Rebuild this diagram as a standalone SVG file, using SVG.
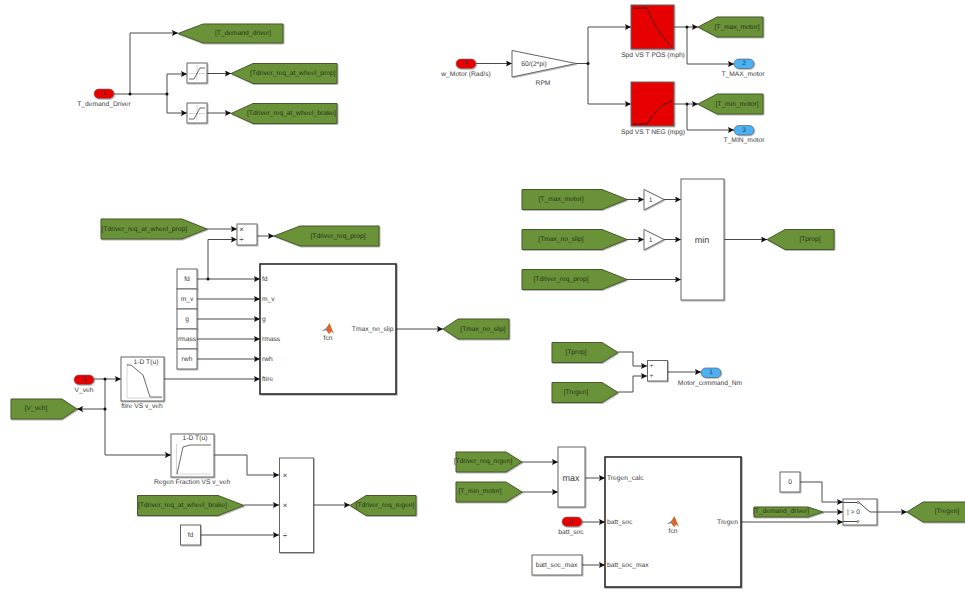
<svg xmlns="http://www.w3.org/2000/svg" width="965" height="599" viewBox="0 0 965 599">
<defs>
<marker id="arr" markerUnits="userSpaceOnUse" markerWidth="7" markerHeight="6" refX="6" refY="3" orient="auto"><path d="M0,0L6,3L0,6L1,3Z" fill="#111"/></marker>
<filter id="sh" x="-10%" y="-10%" width="125%" height="125%"><feDropShadow dx="0.8" dy="0.8" stdDeviation="0.5" flood-color="#000" flood-opacity="0.35"/></filter>
<g id="icon"><path d="M-6,2L-2,-0.5L1.500,-6L6,5L3.500,2.500L1,5L-2,1Z" fill="#d9682a"/><path d="M-6,2L-2,-0.5L0,-3L-2,1Z" fill="#3a86c8"/></g>
</defs>
<style>
text{font-family:"Liberation Sans",Arial,sans-serif;font-size:6.7px;fill:#3a3a3a;text-anchor:middle;dominant-baseline:central;text-rendering:geometricPrecision}
.tag{fill:#6a9238;stroke:#46592c;stroke-width:1;filter:url(#sh)}
.tag+text{fill:#26331a}
.blk{fill:#fff;stroke:#666;stroke-width:1;filter:url(#sh)}
.fn{fill:#fff;stroke:#2b2b2b;stroke-width:1.6;filter:url(#sh)}
.red{fill:#e60000;stroke:#777;stroke-width:.6;filter:url(#sh)}
.blue{fill:#4cb1f5;stroke:#555;stroke-width:.6;filter:url(#sh)}
.lm{fill:#e60000;stroke:#666;stroke-width:1;filter:url(#sh)}
.cv{fill:none;stroke:#444;stroke-width:.8}
.ax{fill:none;stroke:#ccc;stroke-width:.8}
.c{fill:none;stroke:#4a4a4a;stroke-width:1}
.a{marker-end:url(#arr)}
.st{text-anchor:start}
.en{text-anchor:end}
.dot{fill:#111;stroke:none}
.big{font-size:9px}
.op{font-size:8px}
</style>
<g id="connectors">
<path class="c a" d="M114,94H130V33H178"/>
<path class="c a" d="M130,94H167V74H187"/>
<path class="c a" d="M167,94V113H187"/>
<path class="c a" d="M207,73.500H231"/>
<path class="c a" d="M207,113H231"/>
<path class="c a" d="M476,63.500H512"/>
<path class="c a" d="M576,63.500H588V27H631"/>
<path class="c a" d="M588,63.500V104H631"/>
<path class="c a" d="M674,27H698"/>
<path class="c a" d="M687,27V64H734"/>
<path class="c a" d="M674,104H698"/>
<path class="c a" d="M687,104V130H734"/>
<path class="c a" d="M207,229H237"/>
<path class="c a" d="M208,279V239.500H237"/>
<path class="c a" d="M257,236H274"/>
<path class="c a" d="M197,279H260"/>
<path class="c a" d="M197,299H260"/>
<path class="c a" d="M197,319H260"/>
<path class="c a" d="M197,339H260"/>
<path class="c a" d="M197,359H260"/>
<path class="c a" d="M164,379H260"/>
<path class="c a" d="M396,329H443"/>
<path class="c a" d="M94,379H121"/>
<path class="c" d="M105,379V455"/>
<path class="c a" d="M105,409H77"/>
<path class="c a" d="M105,455H171"/>
<path class="c a" d="M213,455H247V475H279"/>
<path class="c a" d="M244,505H279"/>
<path class="c a" d="M201,535H279"/>
<path class="c a" d="M313,505H350"/>
<path class="c a" d="M627,199.500H644"/>
<path class="c a" d="M664,199.500H681"/>
<path class="c a" d="M627,239.500H644"/>
<path class="c a" d="M664,239.500H681"/>
<path class="c a" d="M627,279.500H681"/>
<path class="c a" d="M724,239.500H767"/>
<path class="c a" d="M618,352H633V366H647"/>
<path class="c a" d="M618,392H633V376H647"/>
<path class="c a" d="M668,372H701"/>
<path class="c a" d="M522,462H558"/>
<path class="c a" d="M522,492H558"/>
<path class="c a" d="M585,478H605"/>
<path class="c a" d="M582,522H605"/>
<path class="c a" d="M582,565H605"/>
<path class="c a" d="M741,522H843"/>
<path class="c a" d="M800,482H822V502H843"/>
<path class="c a" d="M823,512H843"/>
<path class="c a" d="M877,512H907"/>
<circle class="dot" cx="130" cy="94" r="1.500"/>
<circle class="dot" cx="167" cy="94" r="1.500"/>
<circle class="dot" cx="588" cy="63.500" r="1.500"/>
<circle class="dot" cx="687" cy="27" r="1.500"/>
<circle class="dot" cx="687" cy="104" r="1.500"/>
<circle class="dot" cx="208" cy="279" r="1.500"/>
<circle class="dot" cx="105" cy="379" r="1.500"/>
<circle class="dot" cx="105" cy="409" r="1.500"/>
</g>
<g id="in1"><rect class="red" x="94" y="89" width="20" height="9.500" rx="4.700"/><text x="104" y="93.500">1</text><text x="104" y="104">T_demand_Driver</text></g>
<g id="goto_t_demand"><path class="tag" d="M178,33.500L203,24H283V43H203Z"/><text x="215" y="33.500" class="st">[T_demand_driver]</text></g>
<g id="sat1"><rect class="blk" x="187" y="63" width="20" height="20"/><path class="ax" d="M189,73.500H205M197,65V81"/><path class="cv" d="M189,79H194L200,68H205"/></g>
<g id="sat2"><rect class="blk" x="187" y="103" width="20" height="20"/><path class="ax" d="M189,113.500H205M197,105V121"/><path class="cv" d="M189,119H194L200,108H205"/></g>
<g id="goto_prop"><path class="tag" d="M231,73.500L253,63.500H337V83.500H253Z"/><text x="250" y="73.500" class="st">[Tdriver_req_at_wheel_prop]</text></g>
<g id="goto_brake"><path class="tag" d="M231,113.500L253,103.500H337V123.500H253Z"/><text x="247" y="113.500" class="st">[Tdriver_req_at_wheel_brake]</text></g>
<g id="in4"><rect class="red" x="456" y="59" width="20" height="9.500" rx="4.700"/><text x="466" y="63.500">4</text><text x="466" y="74.500">w_Motor (Rad/s)</text></g>
<g id="rpm"><path class="blk" d="M512,50.500L576,63.500L512,77Z"/><text x="534" y="64">60/(2*pi)</text><text x="543" y="83">RPM</text></g>
<g id="lut_pos"><rect class="lm" x="631" y="5" width="43" height="44"/><path class="cv" style="stroke:#300" d="M633,8H647C651,18 655,26 660,33C664,39 668,43 672,47"/><text x="653" y="55">Spd VS T POS (mph)</text></g>
<g id="lut_neg"><rect class="lm" x="631" y="82" width="43" height="44"/><path class="cv" style="stroke:#300" d="M633,124H647C651,118 654,113 659,108C663,105 668,102 672,101"/><text x="653" y="132">Spd VS T NEG (mpg)</text></g>
<g id="goto_max"><path class="tag" d="M698,27L717,17H763V37H717Z"/><text x="737" y="27">[T_max_motor]</text></g>
<g id="goto_min"><path class="tag" d="M698,104L717,94H763V114H717Z"/><text x="737" y="104">[T_min_motor]</text></g>
<g id="out2"><rect class="blue" x="734" y="59" width="20" height="9.500" rx="4.700"/><text x="744" y="63.500">2</text><text x="743" y="74.500">T_MAX_motor</text></g>
<g id="out3"><rect class="blue" x="734" y="125.500" width="20" height="9.500" rx="4.700"/><text x="744" y="130">3</text><text x="744" y="140.500">T_MIN_motor</text></g>
<g id="goto_prop2"><path class="tag" d="M101,219H182L207,229L182,239H101Z"/><text x="101.500" y="229" class="st">[Tdriver_req_at_wheel_prop]</text></g>
<g id="div1"><rect class="blk" x="237" y="224" width="20" height="21"/><text x="241.500" y="229.500" class="op">×</text><text x="241.500" y="239.500" class="op">÷</text></g>
<g id="goto_req"><path class="tag" d="M274,236L300,226H379V246H300Z"/><text x="338" y="236">[Tdriver_req_prop]</text></g>
<g id="c_fd"><rect class="blk" x="177" y="269" width="20" height="20"/><text x="187" y="279">fd</text></g>
<g id="c_mv"><rect class="blk" x="177" y="289" width="20" height="20"/><text x="187" y="299">m_v</text></g>
<g id="c_g"><rect class="blk" x="177" y="309" width="20" height="20"/><text x="187" y="319">g</text></g>
<g id="c_rmass"><rect class="blk" x="177" y="329" width="20" height="20"/><text x="187" y="339">rmass</text></g>
<g id="c_rwh"><rect class="blk" x="177" y="349" width="20" height="20"/><text x="187" y="359">rwh</text></g>
<g id="fcn1"><rect class="fn" x="260" y="264" width="136" height="130"/><text x="262" y="279.500" class="st">fd</text><text x="262" y="299.500" class="st">m_v</text><text x="262" y="319.500" class="st">g</text><text x="262" y="339.500" class="st">rmass</text><text x="262" y="359.500" class="st">rwh</text><text x="262" y="379.500" class="st">ftire</text><text x="393.500" y="329.500" class="en">Tmax_no_slip</text><use href="#icon" x="328" y="329"/><text x="328" y="338.500">fcn</text></g>
<g id="goto_noslip"><path class="tag" d="M443,329L458,319H509V339H458Z"/><text x="483" y="329">[Tmax_no_slip]</text></g>
<g id="in3"><rect class="red" x="74" y="375" width="20" height="9.500" rx="4.700"/><text x="84" y="379.500">3</text><text x="84" y="390">V_veh</text></g>
<g id="lut_ftire"><rect class="blk" x="121" y="357" width="43" height="44"/><text x="146" y="362.500">1-D T(u)</text><path class="ax" d="M127,363V398H162"/><path class="cv" d="M127,365H131L143,375L150,397H162"/><text x="142" y="406.500">ftire VS v_veh</text></g>
<g id="goto_vveh"><path class="tag" d="M11,399H62L77,409L62,419H11Z"/><text x="36" y="408.500">[V_veh]</text></g>
<g id="lut_regen"><rect class="blk" x="171" y="434" width="43" height="43"/><text x="195" y="438.500">1-D T(u)</text><path class="ax" d="M176.500,444V474H211"/><path class="cv" d="M177,474L183,447L190,445H211"/><text x="192" y="482">Regen Fraction VS v_veh</text></g>
<g id="div2"><rect class="blk" x="279.500" y="458" width="34" height="94.500"/><text x="285" y="475.500" class="op">×</text><text x="285" y="505.500" class="op">×</text><text x="285" y="535.500" class="op">÷</text></g>
<g id="goto_brake2"><path class="tag" d="M137.500,495.500H218L244,505.500L218,515.500H137.500Z"/><text x="138" y="505" class="st">[Tdriver_req_at_wheel_brake]</text></g>
<g id="c_fd2"><rect class="blk" x="180.500" y="525" width="20" height="20"/><text x="190.500" y="535">fd</text></g>
<g id="goto_regen"><path class="tag" d="M350,505.500L366,495.500H416V515.500H366Z"/><text x="385" y="505">[Tdriver_req_regen]</text></g>
<g id="goto_a"><path class="tag" d="M522,189.500H602L627,199.500L602,209.500H522Z"/><text x="561" y="199.500">[T_max_motor]</text></g>
<g id="goto_b"><path class="tag" d="M522,229.500H602L627,239.500L602,249.500H522Z"/><text x="561" y="239.500">[Tmax_no_slip]</text></g>
<g id="goto_c"><path class="tag" d="M522,269.500H602L627,279.500L602,289.500H522Z"/><text x="561" y="279.500">[Tdriver_req_prop]</text></g>
<g id="gain1"><path class="blk" d="M644,189.500L664,199.500L644,210Z"/><text x="650.500" y="200">1</text></g>
<g id="gain2"><path class="blk" d="M644,229.500L664,239.500L644,250Z"/><text x="650.500" y="240">1</text></g>
<g id="minblk"><rect class="blk" x="681" y="179" width="43" height="121"/><text x="702" y="239.500" class="big">min</text></g>
<g id="goto_tprop"><path class="tag" d="M767,239.500L785,229.500H834V249.500H785Z"/><text x="810" y="239.500">[Tprop]</text></g>
<g id="from_tprop"><path class="tag" d="M552,342.500H602L618,352.500L602,362.500H552Z"/><text x="576" y="352">[Tprop]</text></g>
<g id="from_tregen"><path class="tag" d="M552,382.500H602L618,392.500L602,402.500H552Z"/><text x="576" y="392">[Tregen]</text></g>
<g id="sum"><rect class="blk" x="647.500" y="360.500" width="20" height="20.500"/><text x="651.500" y="366">+</text><text x="651.500" y="376">+</text></g>
<g id="out1"><rect class="blue" x="701" y="368" width="20" height="9.500" rx="4.700"/><text x="711" y="372.500">1</text><text x="710" y="383">Motor_command_Nm</text></g>
<g id="from_regen"><path class="tag" d="M456,452H506L522,462L506,472H456Z"/><text x="483" y="461.500">[Tdriver_req_regen]</text></g>
<g id="from_min"><path class="tag" d="M456,482H506L522,492L506,502H456Z"/><text x="480" y="491.500">[T_min_motor]</text></g>
<g id="maxblk"><rect class="blk" x="558" y="447" width="27" height="60"/><text x="571" y="477.500" class="big">max</text></g>
<g id="in2"><rect class="red" x="562" y="517" width="20" height="9.500" rx="4.700"/><text x="571" y="522">2</text><text x="571" y="532">batt_soc</text></g>
<g id="c_soc"><rect class="blk" x="532" y="555" width="50" height="20"/><text x="556.500" y="565">batt_soc_max</text></g>
<g id="fcn2"><rect class="fn" x="605" y="457" width="136" height="130"/><text x="607" y="478.500" class="st">Tregen_calc</text><text x="607" y="522" class="st">batt_soc</text><text x="607" y="565" class="st">batt_soc_max</text><text x="738" y="522" class="en">Tregen</text><use href="#icon" x="673" y="522"/><text x="673" y="531.500">fcn</text></g>
<g id="c_zero"><rect class="blk" x="780" y="472" width="20" height="20"/><text x="790" y="482">0</text></g>
<g id="from_demand"><path class="tag" d="M754,507H808L823,512L808,517H754Z"/><text x="781" y="511.500">[T_demand_driver]</text></g>
<g id="switch"><rect class="blk" x="843" y="499" width="34" height="26"/><path class="c" d="M843,502.500H857M859,502.500L870,512H877M843,521.500H857"/><circle cx="858" cy="502.500" r="1" fill="#fff" stroke="#333" stroke-width=".6"/><circle cx="858" cy="521.500" r="1" fill="#fff" stroke="#333" stroke-width=".6"/><text x="853.500" y="512">| &gt; 0</text></g>
<g id="goto_tregen"><path class="tag" d="M907,512L923,502H965.500V522H923Z"/><text x="947" y="511.500">[Tregen]</text></g>
</svg>
